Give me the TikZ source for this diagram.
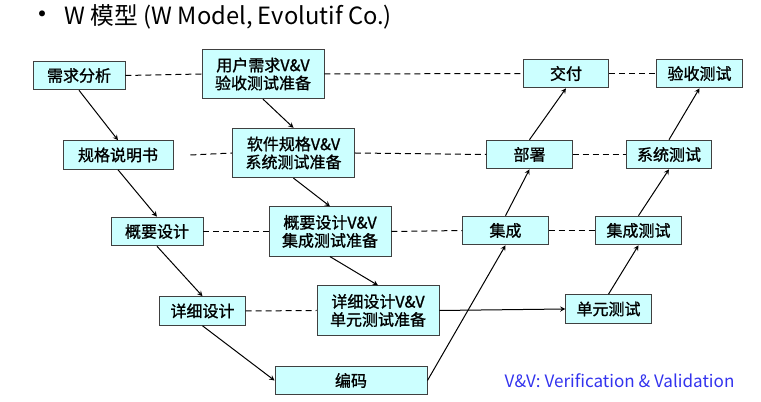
\documentclass[tikz,border=0pt]{standalone}
\usepackage{fontspec}
\setmainfont{Noto Sans CJK SC}
\newfontfamily\boxfont{Noto Sans CJK SC}[FakeBold=1.2]
\usepackage{tikz}

\definecolor{boxfill}{HTML}{CCFFFF}
\definecolor{boxline}{HTML}{404040}
\definecolor{noteblue}{HTML}{3333EE}

\tikzset{
  box/.style={draw=boxline, fill=boxfill, line width=0.7pt, inner sep=0pt,
    minimum width=64pt, minimum height=21.5pt, align=center,
    font=\boxfont\fontsize{12}{13.5}\selectfont},
  vvbox/.style={box, minimum width=91.5pt, minimum height=37pt},
  link/.style={->, line width=0.75pt},
  pair/.style={dashed, line width=0.75pt, dash pattern=on 4.5pt off 3pt},
}

\begin{document}
\begin{tikzpicture}[>=stealth, x=0.75pt, y=-0.75pt]
\useasboundingbox (0,0) rectangle (761,402);

%------------------ TITLE ------------------%
\node[inner sep=0pt, font=\fontsize{21}{21}\selectfont] (bullet) at (42,18) {•};
\node[anchor=west, font=\fontsize{17.8}{20}\selectfont] (title) at (60,17)
  {W 模型 (W Model, Evolutif Co.)};

%------------------ LEFT BRANCH (development) ------------------%
\node[box, minimum width=69pt]   (req)  at (79,75.5)  {需求分析};
\node[box, minimum width=82.5pt] (spec) at (118,155)  {规格说明书};
\node[box, minimum width=69pt]   (hld)  at (157,231.5) {概要设计};
\node[box]                       (lld)  at (202.5,311) {详细设计};
\node[box, minimum width=114pt]  (code) at (351,380.5) {编码};

%------------------ MIDDLE BRANCH (V&V) ------------------%
\node[vvbox] (uvv) at (263,74)    {用户需求V\&V\\验收测试准备};
\node[vvbox] (svv) at (293.5,153) {软件规格V\&V\\系统测试准备};
\node[vvbox] (ivv) at (330,231.5) {概要设计V\&V\\集成测试准备};
\node[vvbox] (dvv) at (378,310.5) {详细设计V\&V\\单元测试准备};

%------------------ RIGHT BRANCHES ------------------%
\node[box] (integ)   at (505.5,230.5) {集成};
\node[box] (deploy)  at (529.5,154.5) {部署};
\node[box] (deliver) at (566,73.5)    {交付};

\node[box] (unittest) at (608.5,309)   {单元测试};
\node[box] (inttest)  at (638.5,230.5) {集成测试};
\node[box] (systest)  at (669,154.5)   {系统测试};
\node[box] (acc)      at (699.5,73.5)  {验收测试};

%------------------ ARROWS ------------------%
\draw[link] (req.south) -- (spec.north);
\draw[link] (spec.south) -- (hld.north);
\draw[link] (hld.south) -- (lld.north);
\draw[link] (lld.south) -- (code.west);
\draw[link] (code.east) -- (integ.south);
\draw[link] (integ.north) -- (deploy.south);
\draw[link] (deploy.north) -- (deliver.south);

\draw[link] (uvv.south) -- (svv.north);
\draw[link] (svv.south) -- (ivv.north);
\draw[link] (ivv.south) -- (dvv.north);
\draw[link] (dvv.east) -- (unittest.west);

\draw[link] (unittest.north) -- (inttest.south);
\draw[link] (inttest.north) -- (systest.south);
\draw[link] (systest.north) -- (acc.south);

%------------------ DASHED PAIRS ------------------%
\draw[pair] (req.east) -- (uvv.west);
\draw[pair] (uvv.east) -- (deliver.west);
\draw[pair] (deliver.east) -- (acc.west);

\coordinate (specgap) at ([xshift=12.75pt]spec.east);
\draw[pair] (specgap) -- (svv.west);
\draw[pair] (svv.east) -- (deploy.west);
\draw[pair] (deploy.east) -- (systest.west);

\draw[pair] (hld.east) -- (ivv.west);
\draw[pair] (ivv.east) -- (integ.west);
\draw[pair] (integ.east) -- (inttest.west);

\draw[pair] (lld.east) -- (dvv.west);

%------------------ NOTE ------------------%
\node[anchor=west, text=noteblue, font=\fontsize{12.8}{15}\selectfont] (note) at (500,381)
  {V\&V: Verification \& Validation};

\end{tikzpicture}
\end{document}
